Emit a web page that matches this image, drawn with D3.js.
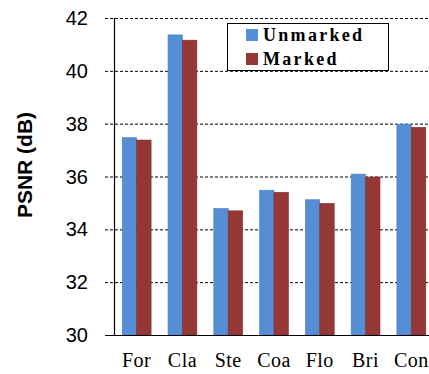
<!DOCTYPE html>
<html>
<head>
<meta charset="utf-8">
<script src="https://cdn.jsdelivr.net/npm/d3@7"></script>
<style>
  body { margin: 0; background: #fff; }
</style>
</head>
<body>
<svg id="chart"></svg>
<script>
const width = 429;
const height = 374;

// data
const categories = ["For", "Cla", "Ste", "Coa", "Flo", "Bri", "Con"];
const unmarked = [37.47, 41.36, 34.79, 35.48, 35.12, 36.09, 37.98];
const marked = [37.38, 41.16, 34.70, 35.40, 34.98, 35.98, 37.86];
const seriesNames = ["Unmarked", "Marked"];
const yTicks = [30, 32, 34, 36, 38, 40, 42];

const colors = { Unmarked: "#558ed5", Marked: "#953735" };
const edge = { Unmarked: "#4a7fc4", Marked: "#7f2c2a" };

const svg = d3.select("#chart")
  .attr("width", width)
  .attr("height", height);

const x0 = 114, y0 = 335;

const x = d3.scaleBand()
  .domain(categories)
  .range([x0, 434])
  .paddingInner(0.37)
  .paddingOuter(0.18);

const xSub = d3.scaleBand()
  .domain(seriesNames)
  .range([0, x.bandwidth()]);

const y = d3.scaleLinear()
  .domain([30, 42])
  .range([y0, 18]);

// gridlines
svg.append("g")
  .selectAll("line")
  .data(yTicks.filter(d => d > 30))
  .join("line")
  .attr("x1", 105)
  .attr("x2", width)
  .attr("y1", d => y(d) + 0.5)
  .attr("y2", d => y(d) + 0.5)
  .attr("stroke", "#000")
  .attr("stroke-width", 1)
  .attr("stroke-dasharray", "3,2");

// bars
const rows = categories.map((c, i) => ({ cat: c, values: [unmarked[i], marked[i]] }));

const groups = svg.append("g")
  .selectAll("g")
  .data(rows)
  .join("g")
  .attr("transform", d => `translate(${x(d.cat)},0)`);

groups.selectAll("rect")
  .data(d => d.values.map((v, k) => ({ key: seriesNames[k], value: v })))
  .join("rect")
  .attr("x", d => xSub(d.key))
  .attr("y", d => y(d.value))
  .attr("width", xSub.bandwidth())
  .attr("height", d => y0 - y(d.value))
  .attr("fill", d => colors[d.key])
  .attr("stroke", d => edge[d.key])
  .attr("stroke-width", 0.6);

// axes lines
svg.append("line")
  .attr("x1", x0 + 0.5).attr("x2", x0 + 0.5)
  .attr("y1", 18).attr("y2", y0)
  .attr("stroke", "#000").attr("stroke-width", 1.2);

svg.append("line")
  .attr("x1", 105).attr("x2", width)
  .attr("y1", y0 + 0.5).attr("y2", y0 + 0.5)
  .attr("stroke", "#000").attr("stroke-width", 1.2);

// y tick labels
svg.append("g")
  .selectAll("text")
  .data(yTicks)
  .join("text")
  .attr("x", 88)
  .attr("y", d => y(d) + 7)
  .attr("text-anchor", "end")
  .attr("font-family", "Liberation Sans, Arial, sans-serif")
  .attr("font-size", 20)
  .attr("fill", "#000")
  .text(d => d);

// x labels
svg.append("g")
  .selectAll("text")
  .data(categories)
  .join("text")
  .attr("x", d => x(d) + x.bandwidth() / 2)
  .attr("y", 367)
  .attr("text-anchor", "middle")
  .attr("font-family", "Liberation Serif, Times New Roman, serif")
  .attr("font-size", 20)
  .attr("letter-spacing", 0.5)
  .attr("fill", "#000")
  .text(d => d);

// y axis title
svg.append("text")
  .attr("transform", "translate(32,165) rotate(-90)")
  .attr("text-anchor", "middle")
  .attr("font-family", "Liberation Sans, Arial, sans-serif")
  .attr("font-weight", "bold")
  .attr("font-size", 21)
  .attr("fill", "#000")
  .text("PSNR (dB)");

// legend
const legend = svg.append("g").attr("transform", "translate(227,23)");
legend.append("rect")
  .attr("x", 0.5).attr("y", 0.5)
  .attr("width", 161).attr("height", 47)
  .attr("fill", "#fff")
  .attr("stroke", "#000")
  .attr("stroke-width", 1);

seriesNames.forEach((name, i) => {
  const row = legend.append("g").attr("transform", `translate(19,${6 + i * 24})`);
  row.append("rect")
    .attr("width", 12).attr("height", 12)
    .attr("fill", colors[name]);
  row.append("text")
    .attr("x", 17)
    .attr("y", 12)
    .attr("font-family", "Liberation Serif, Times New Roman, serif")
    .attr("font-weight", "bold")
    .attr("font-size", 18)
    .attr("letter-spacing", 2.3)
    .attr("fill", "#000")
    .text(name);
});
</script>
</body>
</html>
